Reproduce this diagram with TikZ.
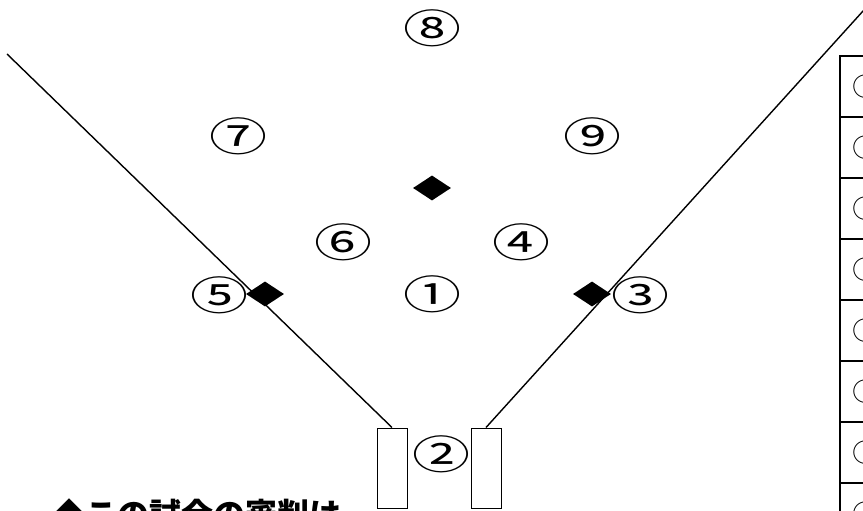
\documentclass[tikz,border=0pt]{standalone}
\usepackage{fontspec}
\newfontfamily\jpfont{Noto Sans CJK JP}
\usetikzlibrary{shapes.geometric}
\newcommand\posnum[1]{\scalebox{1.45}[1]{#1}}

\begin{document}
\begin{tikzpicture}[x=1pt,y=-1pt,
    fielder/.style={font=\jpfont\fontsize{40}{40}\selectfont, inner sep=0pt},
    basemark/.style={diamond, fill=black, minimum width=38pt, minimum height=25pt, inner sep=0pt},
    bench/.style={draw, line width=1pt, minimum width=30pt, minimum height=80pt, inner sep=0pt},
    foul/.style={line width=1.4pt}]
    \useasboundingbox (0,0) rectangle (863,511);
    \clip (0,0) rectangle (863,511);
    % Fielders
    \node[fielder] (p8) at (432,28) {\posnum{⑧}};
    \node[fielder] (p7) at (238,136) {\posnum{⑦}};
    \node[fielder] (p9) at (592,136) {\posnum{⑨}};
    \node[fielder] (p6) at (343,242) {\posnum{⑥}};
    \node[fielder] (p4) at (521,242) {\posnum{④}};
    \node[fielder] (p5) at (219,295) {\posnum{⑤}};
    \node[fielder] (p1) at (432,294) {\posnum{①}};
    \node[fielder] (p3) at (640,295) {\posnum{③}};
    \node[fielder] (p2) at (441,454) {\posnum{②}};
    % Bases
    \node[basemark] (third) at (265,294) {};
    \node[basemark] (second) at (432,188) {};
    \node[basemark] (first) at (592,294) {};
    % Benches
    \node[bench] (benchL) at (392,468) {};
    \node[bench] (benchR) at (486,468) {};
    % Foul lines
    \coordinate (leftEnd) at (7,54);
    \coordinate (rightEnd) at (873,0);
    \draw[foul] (leftEnd) -- (benchL.north);
    \draw[foul] (rightEnd) -- (benchR.north);
    % Umpire table
    \draw[line width=2pt] (840,511) -- (840,55);
    \foreach \i in {0,...,7} {
        \draw[line width=2pt] (839,56+61*\i) -- (870,56+61*\i);
        \node[font=\jpfont\fontsize{26}{26}\selectfont, anchor=west, inner sep=0pt]
            (mark\i) at (852,86.5+61*\i) {○};
    }
    % Caption
    \node[font=\jpfont\bfseries\fontsize{32}{32}\selectfont, anchor=base west, inner sep=0pt]
        (caption) at (53,526) {◆この試合の審判は};
\end{tikzpicture}
\end{document}
